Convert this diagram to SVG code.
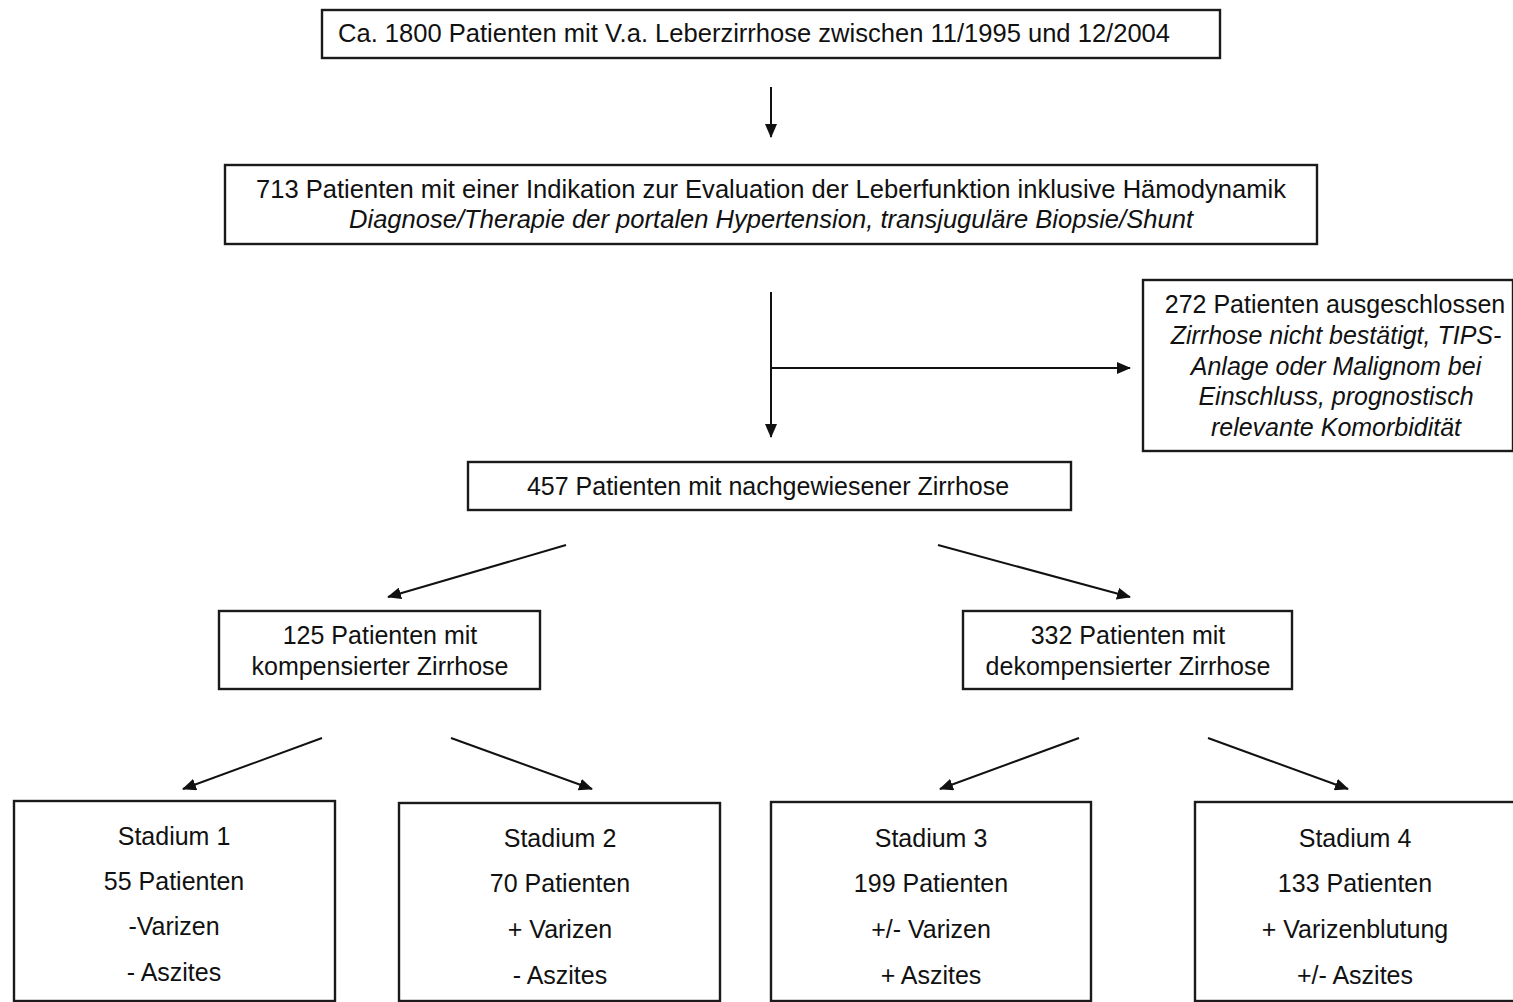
<svg xmlns="http://www.w3.org/2000/svg" width="1513" height="1002" viewBox="0 0 1513 1002">
  <style>
    .box { fill: #ffffff; stroke: #1a1a1a; stroke-width: 2.4; }
    .t { font-family: "Liberation Sans", Arial, sans-serif; font-size: 25px; fill: #111111; }
    .c { text-anchor: middle; }
    .it { font-style: italic; }
    .edge { stroke: #111111; stroke-width: 2; fill: none; marker-end: url(#head); }
  </style>
  <defs>
    <marker id="head" markerUnits="userSpaceOnUse" markerWidth="14" markerHeight="12" refX="13" refY="6" orient="auto">
      <path d="M0,0 L14,6 L0,12 Z" fill="#111111"/>
    </marker>
  </defs>

  <rect width="1513" height="1002" fill="#ffffff"/>

  <!-- connectors -->
  <g id="connectors">
    <line class="edge" x1="771" y1="87" x2="771" y2="137"/>
    <line x1="771" y1="292" x2="771" y2="368" stroke="#111111" stroke-width="2"/>
    <line class="edge" x1="771" y1="366" x2="771" y2="437"/>
    <line class="edge" x1="770" y1="368" x2="1130" y2="368"/>
    <line class="edge" x1="566" y1="545" x2="388" y2="597"/>
    <line class="edge" x1="938" y1="545" x2="1130" y2="597"/>
    <line class="edge" x1="322" y1="738" x2="183" y2="789"/>
    <line class="edge" x1="451" y1="738" x2="592" y2="789"/>
    <line class="edge" x1="1079" y1="738" x2="940" y2="789"/>
    <line class="edge" x1="1208" y1="738" x2="1348" y2="789"/>
  </g>

  <!-- screening population -->
  <g id="n-screening">
    <rect class="box" x="322" y="10" width="898" height="48"/>
    <text class="t" x="338" y="42" textLength="832" lengthAdjust="spacingAndGlyphs">Ca. 1800 Patienten mit V.a. Leberzirrhose zwischen 11/1995 und 12/2004</text>
  </g>

  <!-- evaluated patients -->
  <g id="n-indication">
    <rect class="box" x="225" y="165" width="1092" height="79"/>
    <text class="t c" x="771" y="198" textLength="1030" lengthAdjust="spacingAndGlyphs">713 Patienten mit einer Indikation zur Evaluation der Leberfunktion inklusive Hämodynamik</text>
    <text class="t c it" x="771" y="228" textLength="844" lengthAdjust="spacingAndGlyphs">Diagnose/Therapie der portalen Hypertension, transjuguläre Biopsie/Shunt</text>
  </g>

  <!-- excluded -->
  <g id="n-excluded">
    <rect class="box" x="1143" y="280" width="370" height="171"/>
    <text class="t c" x="1335" y="313">272 Patienten ausgeschlossen</text>
    <text class="t c it" x="1336" y="344">Zirrhose nicht bestätigt, TIPS-</text>
    <text class="t c it" x="1336" y="375">Anlage oder Malignom bei</text>
    <text class="t c it" x="1336" y="405">Einschluss, prognostisch</text>
    <text class="t c it" x="1336" y="436">relevante Komorbidität</text>
  </g>

  <!-- confirmed cirrhosis -->
  <g id="n-confirmed">
    <rect class="box" x="468" y="462" width="603" height="48"/>
    <text class="t c" x="768" y="495">457 Patienten mit nachgewiesener Zirrhose</text>
  </g>

  <!-- compensated -->
  <g id="n-compensated">
    <rect class="box" x="219" y="611" width="321" height="78"/>
    <text class="t c" x="380" y="644">125 Patienten mit</text>
    <text class="t c" x="380" y="675">kompensierter Zirrhose</text>
  </g>

  <!-- decompensated -->
  <g id="n-decompensated">
    <rect class="box" x="963" y="611" width="329" height="78"/>
    <text class="t c" x="1128" y="644">332 Patienten mit</text>
    <text class="t c" x="1128" y="675">dekompensierter Zirrhose</text>
  </g>

  <!-- stages -->
  <g id="n-stage1">
    <rect class="box" x="14" y="801" width="321" height="200"/>
    <text class="t c" x="174" y="845">Stadium 1</text>
    <text class="t c" x="174" y="890">55 Patienten</text>
    <text class="t c" x="174" y="935">-Varizen</text>
    <text class="t c" x="174" y="981">- Aszites</text>
  </g>

  <g id="n-stage2">
    <rect class="box" x="399" y="803" width="321" height="198"/>
    <text class="t c" x="560" y="847">Stadium 2</text>
    <text class="t c" x="560" y="892">70 Patienten</text>
    <text class="t c" x="560" y="938">+ Varizen</text>
    <text class="t c" x="560" y="984">- Aszites</text>
  </g>

  <g id="n-stage3">
    <rect class="box" x="771" y="802" width="320" height="199"/>
    <text class="t c" x="931" y="847">Stadium 3</text>
    <text class="t c" x="931" y="892">199 Patienten</text>
    <text class="t c" x="931" y="938">+/- Varizen</text>
    <text class="t c" x="931" y="984">+ Aszites</text>
  </g>

  <g id="n-stage4">
    <rect class="box" x="1195" y="802" width="330" height="199"/>
    <text class="t c" x="1355" y="847">Stadium 4</text>
    <text class="t c" x="1355" y="892">133 Patienten</text>
    <text class="t c" x="1355" y="938">+ Varizenblutung</text>
    <text class="t c" x="1355" y="984">+/- Aszites</text>
  </g>
</svg>
